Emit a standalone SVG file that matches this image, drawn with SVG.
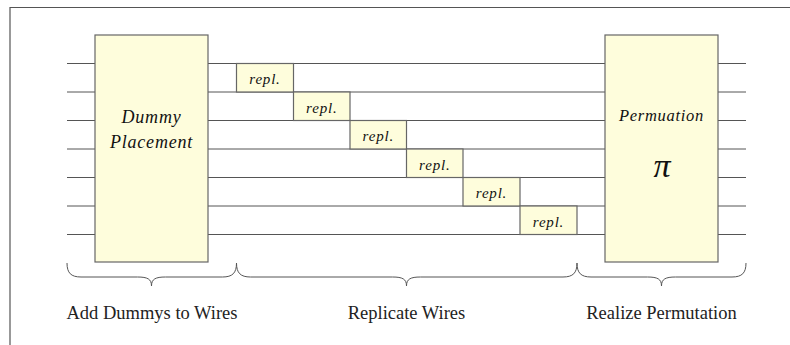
<svg xmlns="http://www.w3.org/2000/svg" width="790" height="345" viewBox="0 0 790 345">
  <style>
    .frame { fill: none; stroke: #555; stroke-width: 1.2; }
    .wire { fill: none; stroke: #555; stroke-width: 1; }
    .box { fill: #fefddc; stroke: #666; stroke-width: 1.2; }
    .brace { fill: none; stroke: #555; stroke-width: 1; }
    .it { font-style: italic; fill: #111; text-anchor: middle; }
    .lbl { font-size: 18.5px; fill: #222; text-anchor: middle; }
    .pi { font-style: italic; font-size: 34px; fill: #111; text-anchor: middle; }
  </style>
  <rect width="790" height="345" fill="#fff"/>
  <!-- outer frame (top and left edges) -->
  <path class="frame" d="M10,345 V7.5 H790"/>

  <g id="connectors">
    <!-- input stubs -->
    <path class="wire" d="M67,63.5 H95 M67,92 H95 M67,120.5 H95 M67,149 H95 M67,177.5 H95 M67,206 H95 M67,234.5 H95"/>
    <!-- wires between the two stages -->
    <path class="wire" d="M208,63.5 H605 M208,92 H605 M208,120.5 H605 M208,149 H605 M208,177.5 H605 M208,206 H605 M208,234.5 H605"/>
    <!-- output stubs -->
    <path class="wire" d="M718,63.5 H746 M718,92 H746 M718,120.5 H746 M718,149 H746 M718,177.5 H746 M718,206 H746 M718,234.5 H746"/>
  </g>

  <g font-family="Liberation Serif, Times New Roman, serif">
  <g id="dummy-placement">
    <rect class="box" x="95" y="35" width="113" height="227"/>
    <text class="it" x="151.5" y="123" font-size="18" letter-spacing="0.8">Dummy</text>
    <text class="it" x="151.5" y="148" font-size="18" letter-spacing="0.8">Placement</text>
  </g>

  <g id="repl-1">
    <rect class="box" x="236.5" y="63.5" width="57" height="28.5"/>
    <text class="it" x="265" y="84" font-size="15" letter-spacing="0.8">repl.</text>
  </g>
  <g id="repl-2">
    <rect class="box" x="293.5" y="92" width="56.5" height="28.5"/>
    <text class="it" x="321.8" y="112.5" font-size="15" letter-spacing="0.8">repl.</text>
  </g>
  <g id="repl-3">
    <rect class="box" x="350" y="120.5" width="56.5" height="28.5"/>
    <text class="it" x="378.3" y="141" font-size="15" letter-spacing="0.8">repl.</text>
  </g>
  <g id="repl-4">
    <rect class="box" x="406.5" y="149" width="56.5" height="28.5"/>
    <text class="it" x="434.8" y="169.5" font-size="15" letter-spacing="0.8">repl.</text>
  </g>
  <g id="repl-5">
    <rect class="box" x="463" y="177.5" width="57" height="28.5"/>
    <text class="it" x="491.5" y="198" font-size="15" letter-spacing="0.8">repl.</text>
  </g>
  <g id="repl-6">
    <rect class="box" x="520" y="206" width="57" height="28.5"/>
    <text class="it" x="548.5" y="226.5" font-size="15" letter-spacing="0.8">repl.</text>
  </g>

  <g id="permutation">
    <rect class="box" x="605" y="35" width="113" height="227"/>
    <text class="it" x="661.5" y="121" font-size="16.5" letter-spacing="0.7">Permuation</text>
    <text class="pi" x="662" y="177">π</text>
  </g>

  <g id="labels">
    <text class="lbl" x="152" y="318.5">Add Dummys to Wires</text>
    <text class="lbl" x="406.5" y="318.5">Replicate Wires</text>
    <text class="lbl" x="661.5" y="318.5">Realize Permutation</text>
  </g>
  </g>

  <g id="braces">
    <path class="brace" d="M67,263 C67,273 71,277 81,277 H137.5 C147.5,277 151.5,279 151.5,286 C151.5,279 155.5,277 165.5,277 H222.5 C232.5,277 236.5,273 236.5,263"/>
    <path class="brace" d="M236.5,263 C236.5,273 240.5,277 250.5,277 H392.5 C402.5,277 406.5,279 406.5,286 C406.5,279 410.5,277 420.5,277 H563 C573,277 577,273 577,263"/>
    <path class="brace" d="M577,263 C577,273 581,277 591,277 H647.5 C657.5,277 661.5,279 661.5,286 C661.5,279 665.5,277 675.5,277 H732 C742,277 746,273 746,263"/>
  </g>
</svg>
